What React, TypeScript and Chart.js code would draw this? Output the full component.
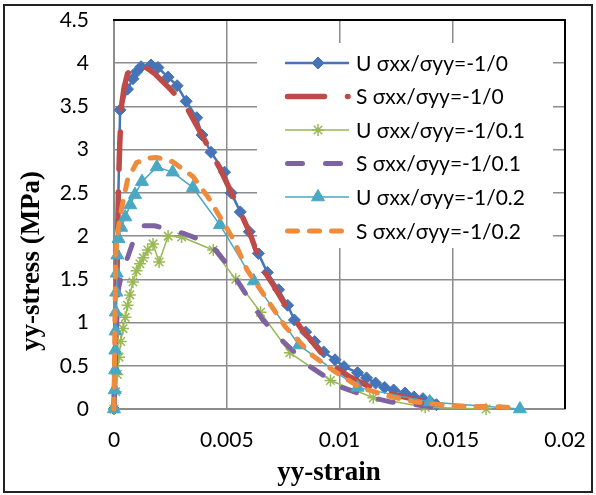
import React, { useEffect, useRef } from 'react';
import { Chart, registerables } from 'chart.js';

Chart.register(...registerables);

// ---------- data ----------
const seriesLabels = [
  'U σxx/σyy=-1/0',
  'S σxx/σyy=-1/0',
  'U σxx/σyy=-1/0.1',
  'S σxx/σyy=-1/0.1',
  'U σxx/σyy=-1/0.2',
  'S σxx/σyy=-1/0.2',
];

const uStrain0 = [0, 0.00027, 0.0006, 0.00084, 0.001, 0.0012, 0.00164, 0.00195, 0.0024, 0.0028, 0.0032, 0.00367, 0.0039, 0.0043, 0.0049, 0.0052, 0.0056, 0.006, 0.0064, 0.0068, 0.0073, 0.0077, 0.008, 0.0085, 0.0089, 0.0093, 0.0098, 0.0102, 0.0108, 0.0112, 0.0116, 0.012, 0.0124, 0.0129, 0.0133, 0.0137, 0.014, 0.0143];
const uStress0 = [0, 3.46, 3.7, 3.82, 3.9, 3.96, 3.98, 3.95, 3.84, 3.74, 3.56, 3.37, 3.17, 2.97, 2.74, 2.5, 2.28, 2.05, 1.8, 1.58, 1.38, 1.2, 1.03, 0.89, 0.78, 0.66, 0.57, 0.49, 0.42, 0.36, 0.3, 0.25, 0.22, 0.185, 0.14, 0.12, 0.09, 0.05];

const sStrain0 = [0, 0.0001, 0.00016, 0.0002, 0.00026, 0.00033, 0.00045, 0.0006, 0.0009, 0.0012, 0.0018, 0.0025, 0.0032, 0.004, 0.0047, 0.0053, 0.006, 0.0066, 0.0071, 0.0076, 0.0083, 0.0091, 0.0097, 0.0104, 0.0113, 0.0123, 0.0132, 0.014, 0.0145];
const sStress0 = [0, 1.0, 2.0, 2.6, 3.1, 3.5, 3.72, 3.88, 3.96, 3.99, 3.88, 3.7, 3.5, 3.12, 2.78, 2.45, 2.05, 1.62, 1.42, 1.2, 0.93, 0.68, 0.5, 0.38, 0.26, 0.17, 0.12, 0.07, 0.04];

const uStrain01 = [0, 0.00008, 0.00015, 0.00022, 0.0003, 0.0004, 0.0005, 0.0006, 0.0007, 0.00084, 0.001, 0.00115, 0.0013, 0.0015, 0.00173, 0.002, 0.0024, 0.003, 0.0044, 0.0054, 0.0065, 0.0078, 0.0096, 0.0115, 0.0138, 0.0165];
const uStress01 = [0, 0.2, 0.4, 0.6, 0.78, 0.93, 1.06, 1.2, 1.32, 1.47, 1.6, 1.68, 1.75, 1.84, 1.91, 1.7, 2.0, 1.99, 1.84, 1.5, 1.12, 0.65, 0.33, 0.13, 0.02, 0.0];

const sStrain01 = [0, 0.00006, 0.00012, 0.0002, 0.0004, 0.0006, 0.0008, 0.001, 0.0013, 0.0018, 0.0025, 0.0031, 0.0037, 0.0045, 0.005, 0.0055, 0.006, 0.0066, 0.0075, 0.0087, 0.0101, 0.0113, 0.0123, 0.0134, 0.0142];
const sStress01 = [0, 0.5, 1.0, 1.4, 1.62, 1.75, 1.9, 2.04, 2.12, 2.12, 2.07, 2.03, 1.97, 1.84, 1.68, 1.47, 1.27, 1.03, 0.78, 0.49, 0.25, 0.14, 0.08, 0.05, 0.02];

const uStrain02 = [0, 0.00003, 0.00005, 0.00006, 0.00007, 0.00008, 0.0001, 0.00012, 0.00015, 0.0002, 0.00032, 0.0005, 0.00072, 0.00093, 0.00124, 0.0019, 0.0026, 0.0035, 0.0047, 0.0062, 0.0082, 0.0108, 0.014, 0.018];
const uStress02 = [0, 0.22, 0.45, 0.68, 0.9, 1.12, 1.35, 1.57, 1.78, 1.97, 2.1, 2.22, 2.36, 2.48, 2.63, 2.8, 2.74, 2.56, 2.13, 1.48, 0.74, 0.25, 0.08, 0.0];

const sStrain02 = [0, 0.00004, 0.00008, 0.00018, 0.00035, 0.0006, 0.001, 0.0015, 0.0019, 0.0026, 0.0035, 0.0042, 0.0047, 0.0053, 0.0059, 0.0066, 0.0076, 0.0088, 0.0097, 0.0109, 0.0123, 0.0134, 0.0141, 0.015, 0.016, 0.0171, 0.0178];
const sStress02 = [0, 1.0, 1.8, 2.07, 2.34, 2.65, 2.85, 2.9, 2.91, 2.86, 2.69, 2.44, 2.22, 1.96, 1.61, 1.34, 0.95, 0.62, 0.45, 0.25, 0.14, 0.08, 0.06, 0.035, 0.03, 0.025, 0.01];

const xTickLabels = ['0', '0.005', '0.01', '0.015', '0.02'];
const yTickLabels = ['0', '0.5', '1', '1.5', '2', '2.5', '3', '3.5', '4', '4.5'];
const xTitle = 'yy-strain';
const yTitle = 'yy-stress (MPa)';

// ---------- helpers ----------
const pts = (xs: number[], ys: number[]) => xs.map((x, i) => ({ x, y: ys[i] }));

const TICK_FONT = { family: 'Lato', size: 21 };

function drawMarker(ctx: CanvasRenderingContext2D, style: string, x: number, y: number, r: number, color: string, bw: number) {
  ctx.save();
  ctx.setLineDash([]);
  ctx.fillStyle = color;
  ctx.strokeStyle = color;
  ctx.lineWidth = bw;
  ctx.beginPath();
  if (style === 'rectRot') {
    ctx.moveTo(x, y - r);
    ctx.lineTo(x + r, y);
    ctx.lineTo(x, y + r);
    ctx.lineTo(x - r, y);
    ctx.closePath();
    ctx.fill();
    ctx.stroke();
  } else if (style === 'triangle') {
    for (let k = 0; k < 3; k++) {
      const a = (k * 2 * Math.PI) / 3;
      const px = x + Math.sin(a) * r;
      const py = y - Math.cos(a) * r;
      if (k === 0) ctx.moveTo(px, py);
      else ctx.lineTo(px, py);
    }
    ctx.closePath();
    ctx.fill();
    ctx.stroke();
  } else if (style === 'star') {
    for (let k = 0; k < 4; k++) {
      const a = (k * Math.PI) / 4;
      ctx.moveTo(x - Math.cos(a) * r, y - Math.sin(a) * r);
      ctx.lineTo(x + Math.cos(a) * r, y + Math.sin(a) * r);
    }
    ctx.stroke();
  }
  ctx.restore();
}

const zeroPad = (s: any) => {
  s.paddingTop = 0;
  s.paddingBottom = 0;
  s.paddingLeft = 0;
  s.paddingRight = 0;
};

const decorPlugin = {
  id: 'decor',
  beforeDraw(chart: any) {
    const ctx = chart.ctx as CanvasRenderingContext2D;
    ctx.save();
    ctx.fillStyle = '#ffffff';
    ctx.fillRect(0, 0, chart.width, chart.height);
    ctx.restore();
  },
  afterDatasetsDraw(chart: any) {
    const ctx = chart.ctx as CanvasRenderingContext2D;
    const { left, right, top, bottom } = chart.chartArea;
    ctx.save();
    ctx.strokeStyle = '#000';
    ctx.lineWidth = 2;
    ctx.beginPath();
    ctx.moveTo(left - 1, top);
    ctx.lineTo(right, top);
    ctx.lineTo(right, bottom);
    ctx.stroke();

    ctx.fillStyle = '#ffffff';
    ctx.fillRect(257, 43, 296, 205);

    const rowY = [63, 96.5, 130, 163.5, 197, 231];
    chart.data.datasets.forEach((ds: any, i: number) => {
      const y = rowY[i];
      ctx.save();
      ctx.strokeStyle = ds.borderColor;
      ctx.lineWidth = ds.borderWidth;
      ctx.lineCap = ds.borderCapStyle || 'butt';
      ctx.setLineDash(ds.borderDash || []);
      ctx.beginPath();
      ctx.moveTo(ds.legendStart, y);
      ctx.lineTo(ds.legendEnd, y);
      ctx.stroke();
      ctx.restore();
      if (ds.pointRadius > 0) {
        drawMarker(ctx, ds.pointStyle, 318, y, ds.pointRadius, ds.borderColor, ds.pointBorderWidth);
      }
      ctx.fillStyle = '#000';
      ctx.font = '21px Lato';
      ctx.textBaseline = 'middle';
      ctx.textAlign = 'left';
      ctx.fillText(seriesLabels[i], 356, y + 1);
    });
    ctx.restore();
  },
  afterDraw(chart: any) {
    const ctx = chart.ctx as CanvasRenderingContext2D;
    ctx.save();
    ctx.fillStyle = '#000';
    ctx.font = 'bold 27px "Liberation Serif"';
    ctx.textAlign = 'center';
    ctx.textBaseline = 'middle';
    ctx.fillText(xTitle, 329, 473);
    ctx.translate(32, 261);
    ctx.rotate(-Math.PI / 2);
    ctx.fillText(yTitle, 0, 0);
    ctx.restore();

    ctx.save();
    ctx.strokeStyle = '#222';
    ctx.lineWidth = 2;
    ctx.strokeRect(4, 5, 588, 487);
    ctx.restore();
  },
};

export default function App() {
  const ref = useRef<HTMLCanvasElement | null>(null);

  useEffect(() => {
    if (!ref.current) return;
    const common = { showLine: true, clip: false, borderJoinStyle: 'round', tension: 0 };
    const chart = new Chart(ref.current, {
      type: 'scatter',
      data: {
        datasets: [
          {
            ...common, label: seriesLabels[0], data: pts(uStrain0, uStress0),
            borderColor: '#4674b8', backgroundColor: '#4674b8', borderWidth: 2.5,
            pointStyle: 'rectRot', pointRadius: 6, pointBorderWidth: 1, order: 5,
            legendStart: 285, legendEnd: 349,
          },
          {
            ...common, label: seriesLabels[1], data: pts(sStrain0, sStress0),
            borderColor: '#be4b48', backgroundColor: '#be4b48', borderWidth: 5.5,
            borderDash: [37, 23], borderCapStyle: 'round', pointRadius: 0, order: 4,
            legendStart: 287.5, legendEnd: 348,
          },
          {
            ...common, label: seriesLabels[2], data: pts(uStrain01, uStress01),
            borderColor: '#98b954', backgroundColor: '#98b954', borderWidth: 1.5,
            pointStyle: 'star', pointRadius: 6, pointBorderWidth: 1.5, order: 3,
            legendStart: 285, legendEnd: 349,
          },
          {
            ...common, label: seriesLabels[3], data: pts(sStrain01, sStress01),
            borderColor: '#7e62a1', backgroundColor: '#7e62a1', borderWidth: 5,
            borderDash: [15, 23], borderCapStyle: 'round', pointRadius: 0, order: 2,
            legendStart: 287.5, legendEnd: 341,
          },
          {
            ...common, label: seriesLabels[4], data: pts(uStrain02, uStress02),
            borderColor: '#4aa8c4', backgroundColor: '#4aa8c4', borderWidth: 1.5,
            pointStyle: 'triangle', pointRadius: 7.5, pointBorderWidth: 1, order: 1,
            legendStart: 285, legendEnd: 349,
          },
          {
            ...common, label: seriesLabels[5], data: pts(sStrain02, sStress02),
            borderColor: '#ef8b3c', backgroundColor: '#ef8b3c', borderWidth: 5,
            borderDash: [10, 12], borderCapStyle: 'round', pointRadius: 0, order: 0,
            legendStart: 287.5, legendEnd: 342,
          },
        ] as any,
      },
      options: {
        animation: false,
        responsive: false,
        devicePixelRatio: 1,
        events: [],
        layout: { padding: { left: 0, right: 31, top: 20, bottom: 0 } },
        plugins: { legend: { display: false }, tooltip: { enabled: false }, title: { display: false } },
        scales: {
          x: {
            type: 'linear', min: 0, max: 0.02,
            afterFit: (s: any) => { s.height = 86; zeroPad(s); },
            ticks: {
              stepSize: 0.005, padding: 19, color: '#000', font: TICK_FONT,
              maxRotation: 0, autoSkip: false,
              callback: (_v: any, i: number) => xTickLabels[i],
            },
            grid: { color: '#8c8c8c', lineWidth: 1.5, drawTicks: false },
            border: { display: true, color: '#8c8c8c', width: 2 },
          },
          y: {
            type: 'linear', min: 0, max: 4.5,
            afterFit: (s: any) => { s.width = 114; zeroPad(s); },
            ticks: {
              stepSize: 0.5, padding: 25, color: '#000', font: TICK_FONT, autoSkip: false,
              callback: (_v: any, i: number) => yTickLabels[i],
            },
            grid: { color: '#8c8c8c', lineWidth: 1.5, drawTicks: false },
            border: { display: true, color: '#8c8c8c', width: 2 },
          },
        },
      } as any,
      plugins: [decorPlugin],
    });
    return () => chart.destroy();
  }, []);

  return (
    <div style={{ position: 'absolute', left: 0, top: 0, width: 596, height: 495, background: '#fff' }}>
      <canvas ref={ref} width={596} height={495} style={{ width: 596, height: 495, display: 'block' }} />
    </div>
  );
}
